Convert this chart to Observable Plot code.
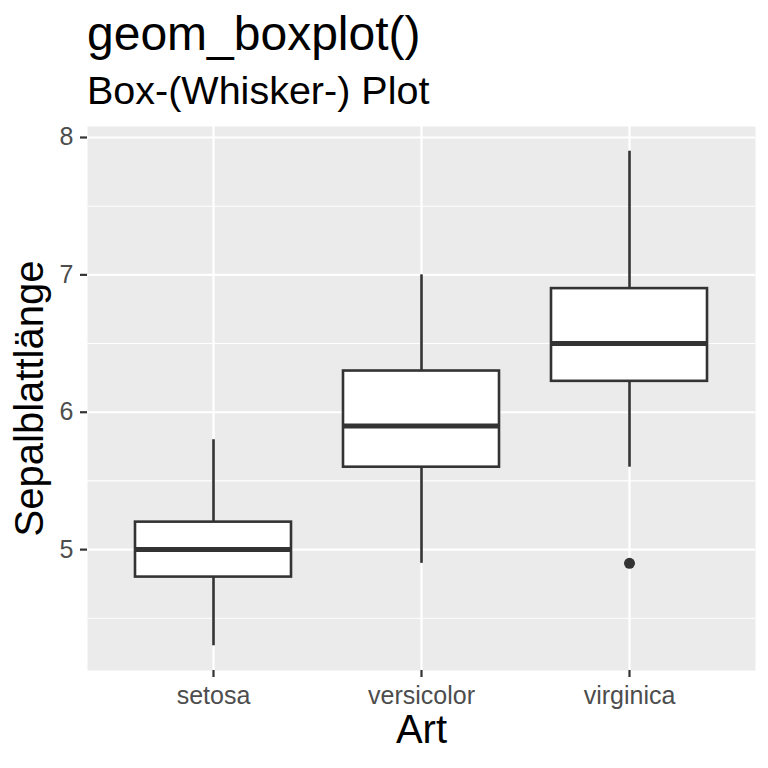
<!DOCTYPE html>
<html>
<head>
<meta charset="utf-8">
<script src="https://cdn.jsdelivr.net/npm/d3@7"></script>
<script src="https://cdn.jsdelivr.net/npm/@observablehq/plot@0.6"></script>
<style>
  html, body { margin: 0; padding: 0; background: #ffffff; }
  #wrap { position: relative; width: 768px; height: 768px; overflow: hidden; font-family: "Liberation Sans", Arial, sans-serif; }
  #head { position: relative; width: 768px; height: 115px; }
  #title { position: absolute; left: 87px; top: 0px; font-size: 48px; line-height: 1; color: #000; white-space: nowrap; }
  #subtitle { position: absolute; left: 87px; top: 0px; font-size: 39.5px; line-height: 1; color: #000; white-space: nowrap; }
  svg { display: block; }
</style>
</head>
<body>
<div id="wrap">
  <div id="head">
    <div id="title"></div>
    <div id="subtitle"></div>
  </div>
  <div id="chart"></div>
</div>
<script>
// Categories
const species = ["setosa", "versicolor", "virginica"];
// Box statistics (Sepal.Length)
const whiskerLow = [4.3, 4.9, 5.6];
const q1 = [4.8, 5.6, 6.225];
const median = [5.0, 5.9, 6.5];
const q3 = [5.2, 6.3, 6.9];
const whiskerHigh = [5.8, 7.0, 7.9];
// Outliers
const outlierSpecies = ["virginica"];
const outlierValues = [4.9];
// Axis ticks
const yTicks = [5, 6, 7, 8];
const yMinorTicks = [4.5, 5.5, 6.5, 7.5];
const titleText = "geom_boxplot()";
const subtitleText = "Box-(Whisker-) Plot";
const xLabel = "Art";
const yLabel = "Sepalblattlänge";

document.getElementById("title").textContent = titleText;
document.getElementById("subtitle").textContent = subtitleText;

function placeBaseline(el, baseline) {
  const fs = parseFloat(getComputedStyle(el).fontSize);
  const ascent = 0.905, descent = 0.212;
  const half = (1 - (ascent + descent)) / 2;
  el.style.top = (baseline - fs * (ascent + half)) + "px";
}
placeBaseline(document.getElementById("title"), 51);
placeBaseline(document.getElementById("subtitle"), 104);

const stats = species.map((s, i) => ({
  species: s, lo: whiskerLow[i], q1: q1[i], med: median[i], q3: q3[i], hi: whiskerHigh[i]
}));
const outliers = outlierSpecies.map((s, i) => ({species: s, value: outlierValues[i]}));

const ink = "#333333";
const font = "Liberation Sans, Arial, sans-serif";

const chart = Plot.plot({
  width: 768,
  height: 653,
  marginTop: 11,
  marginBottom: 98,
  marginLeft: 87,
  marginRight: 13,
  style: {fontFamily: font, background: "#ffffff", overflow: "visible"},
  x: {type: "band", domain: species, paddingInner: 0.25, paddingOuter: 0.225, axis: null},
  y: {domain: [4.12, 8.08], axis: null},
  marks: [
    Plot.frame({fill: "#EBEBEB", stroke: null}),
    Plot.gridY(yMinorTicks, {stroke: "#ffffff", strokeOpacity: 1, strokeWidth: 1.1}),
    Plot.gridY(yTicks, {stroke: "#ffffff", strokeOpacity: 1, strokeWidth: 2.2}),
    Plot.gridX(species, {stroke: "#ffffff", strokeOpacity: 1, strokeWidth: 2.2}),
    Plot.axisY(yTicks, {tickSize: 7, tickPadding: 7, fontSize: 25, tickFormat: d3.format("d"), color: "#4D4D4D", stroke: ink, strokeWidth: 2.2, label: null}),
    Plot.axisX(species, {tickSize: 7, tickPadding: 9, fontSize: 25, color: "#4D4D4D", stroke: ink, strokeWidth: 2.2, label: null}),
    Plot.ruleX(stats, {x: "species", y1: "lo", y2: "q1", stroke: ink, strokeWidth: 2.6}),
    Plot.ruleX(stats, {x: "species", y1: "q3", y2: "hi", stroke: ink, strokeWidth: 2.6}),
    Plot.barY(stats, {x: "species", y1: "q1", y2: "q3", fill: "#ffffff", stroke: ink, strokeWidth: 2.6}),
    Plot.tickY(stats, {x: "species", y: "med", stroke: ink, strokeWidth: 5}),
    Plot.dot(outliers, {x: "species", y: "value", r: 5.5, fill: ink, stroke: null}),
    Plot.text([xLabel], {text: d => d, frameAnchor: "bottom", textAnchor: "middle", lineAnchor: "middle", dy: 60, fontSize: 40, fill: "#000"}),
    Plot.text([yLabel], {text: d => d, frameAnchor: "left", textAnchor: "middle", lineAnchor: "middle", dx: -57, rotate: -90, fontSize: 40, fill: "#000"})
  ]
});
document.getElementById("chart").appendChild(chart);
</script>
</body>
</html>
